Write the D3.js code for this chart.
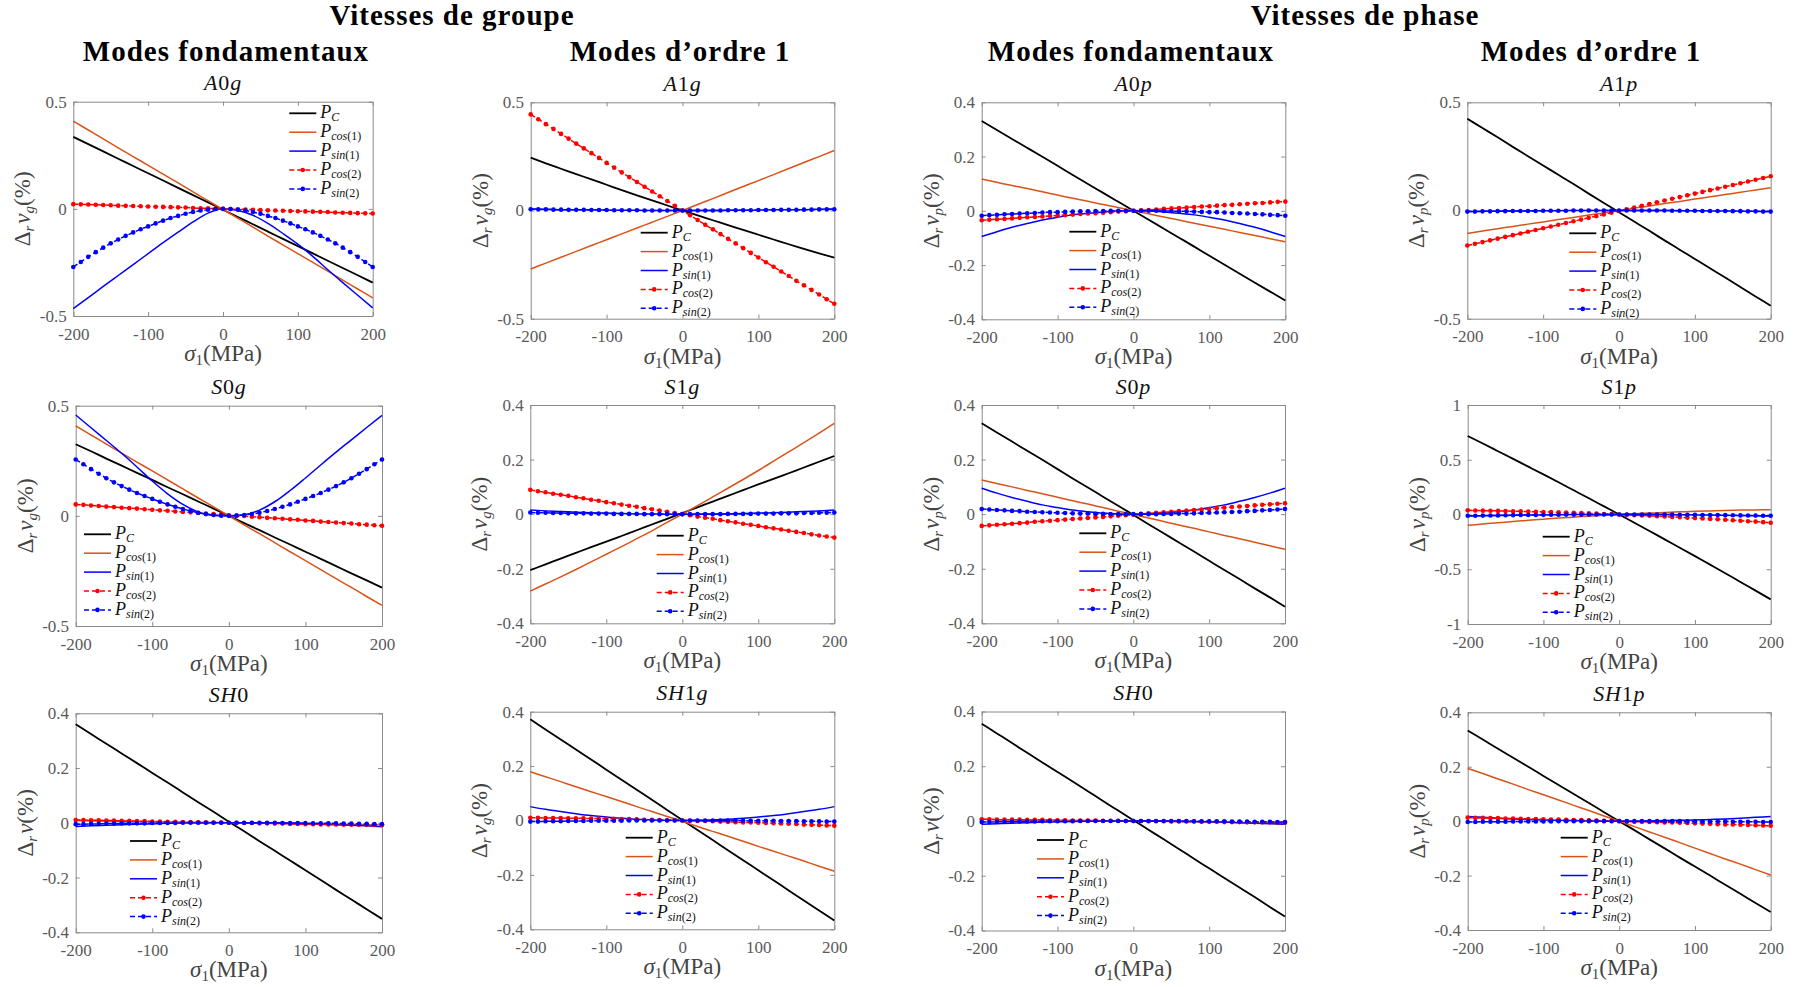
<!DOCTYPE html>
<html><head><meta charset="utf-8">
<script src="https://cdn.jsdelivr.net/npm/d3@7"></script>
<style>body{margin:0;background:#fff}svg{display:block}</style>
</head><body><svg id="c" width="1801" height="987"></svg>
<script>
// ---------- DATA ----------
const sigmaLine = [-200,-180,-160,-140,-120,-100,-80,-60,-40,-20,0,20,40,60,80,100,120,140,160,180,200];
const sigmaMark = [-200,-190,-180,-170,-160,-150,-140,-130,-120,-110,-100,-90,-80,-70,-60,-50,-40,-30,-20,-10,0,10,20,30,40,50,60,70,80,90,100,110,120,130,140,150,160,170,180,190,200];
const xTicks = [-200,-100,0,100,200];
const yTicksHalf = [-0.5,0,0.5];
const yTicksFour = [-0.4,-0.2,0,0.2,0.4];
const yTicksOne = [-1,-0.5,0,0.5,1];
const groupHeaders = ["Vitesses de groupe","Vitesses de phase"];
const columnHeaders = ["Modes fondamentaux","Modes d’ordre 1","Modes fondamentaux","Modes d’ordre 1"];
const panelTitles = ["A0g","A1g","A0p","A1p","S0g","S1g","S0p","S1p","SH0","SH1g","SH0","SH1p"];
const velocitySub = ["g","g","p","p","g","g","p","p","","g","","p"];
const legendLabels = [["C",""],["cos","(1)"],["sin","(1)"],["cos","(2)"],["sin","(2)"]];
const xLabelParts = ["σ","1","(MPa)"];

// A0g
const A0g_PC    = [0.336,0.302,0.268,0.234,0.200,0.166,0.132,0.098,0.064,0.030,-0.004,-0.038,-0.072,-0.106,-0.140,-0.174,-0.208,-0.242,-0.276,-0.310,-0.344];
const A0g_Pcos1 = [0.409,0.368,0.327,0.285,0.244,0.203,0.162,0.121,0.079,0.038,-0.003,-0.044,-0.085,-0.127,-0.168,-0.209,-0.250,-0.291,-0.333,-0.374,-0.415];
const A0g_Psin1 = [-0.465,-0.414,-0.362,-0.311,-0.260,-0.209,-0.158,-0.109,-0.061,-0.020,0.000,-0.008,-0.030,-0.068,-0.115,-0.165,-0.222,-0.284,-0.344,-0.403,-0.462];
const A0g_Pcos2 = [0.022,0.021,0.020,0.019,0.018,0.017,0.015,0.014,0.013,0.012,0.011,0.010,0.009,0.008,0.007,0.006,0.004,0.003,0.002,0.001,0,-0.001,-0.002,-0.003,-0.004,-0.006,-0.007,-0.008,-0.009,-0.010,-0.011,-0.012,-0.013,-0.014,-0.015,-0.017,-0.018,-0.019,-0.020,-0.021,-0.022];
const A0g_Psin2 = [-0.271,-0.248,-0.224,-0.202,-0.181,-0.161,-0.143,-0.126,-0.110,-0.095,-0.082,-0.068,-0.055,-0.043,-0.033,-0.023,-0.015,-0.008,-0.004,-0.001,0,-0.001,-0.004,-0.008,-0.015,-0.023,-0.033,-0.043,-0.055,-0.068,-0.082,-0.095,-0.110,-0.126,-0.143,-0.161,-0.181,-0.202,-0.224,-0.248,-0.271];
// A1g
const A1g_PC    = [0.244,0.218,0.193,0.168,0.144,0.119,0.094,0.070,0.047,0.023,0,-0.023,-0.045,-0.068,-0.090,-0.112,-0.134,-0.156,-0.177,-0.198,-0.218];
const A1g_Pcos1 = [-0.270,-0.243,-0.216,-0.189,-0.162,-0.135,-0.108,-0.081,-0.054,-0.027,0,0.028,0.055,0.083,0.111,0.138,0.166,0.194,0.222,0.249,0.277];
const A1g_Psin1 = [0.007,0.006,0.004,0.003,0.003,0.002,0.001,0.001,0,0,0,0,0,0.001,0.001,0.002,0.003,0.003,0.004,0.006,0.007];
const A1g_Pcos2 = [0.444,0.422,0.399,0.377,0.354,0.332,0.309,0.287,0.265,0.243,0.220,0.198,0.176,0.154,0.132,0.110,0.088,0.066,0.044,0.022,0,-0.022,-0.044,-0.066,-0.087,-0.109,-0.131,-0.152,-0.174,-0.196,-0.217,-0.239,-0.260,-0.282,-0.303,-0.325,-0.346,-0.367,-0.388,-0.410,-0.431];
const A1g_Psin2 = [0.006,0.005,0.005,0.004,0.004,0.003,0.003,0.003,0.002,0.002,0.002,0.001,0.001,0.001,0.001,0,0,0,0,0,0,0,0,0,0,0,0.001,0.001,0.001,0.001,0.002,0.002,0.002,0.003,0.003,0.003,0.004,0.004,0.005,0.005,0.006];
// A0p
const A0p_PC    = [0.331,0.298,0.265,0.232,0.199,0.166,0.132,0.099,0.066,0.033,0,-0.033,-0.066,-0.099,-0.132,-0.166,-0.199,-0.232,-0.265,-0.298,-0.331];
const A0p_Pcos1 = [0.117,0.105,0.093,0.082,0.070,0.058,0.046,0.035,0.023,0.012,0,-0.011,-0.023,-0.034,-0.046,-0.057,-0.068,-0.080,-0.091,-0.103,-0.114];
const A0p_Psin1 = [-0.095,-0.077,-0.061,-0.047,-0.034,-0.024,-0.015,-0.009,-0.004,-0.001,0,-0.001,-0.004,-0.009,-0.015,-0.024,-0.034,-0.047,-0.061,-0.077,-0.095];
const A0p_Pcos2 = [-0.035,-0.033,-0.031,-0.030,-0.028,-0.026,-0.024,-0.023,-0.021,-0.019,-0.017,-0.016,-0.014,-0.012,-0.010,-0.009,-0.007,-0.005,-0.003,-0.002,0,0.002,0.003,0.005,0.007,0.009,0.010,0.012,0.014,0.016,0.017,0.019,0.021,0.022,0.024,0.026,0.028,0.029,0.031,0.033,0.034];
const A0p_Psin2 = [-0.018,-0.016,-0.015,-0.013,-0.012,-0.010,-0.009,-0.008,-0.006,-0.005,-0.005,-0.004,-0.003,-0.002,-0.002,-0.001,-0.001,0,0,0,0,0,0,0,-0.001,-0.001,-0.002,-0.002,-0.003,-0.004,-0.005,-0.005,-0.006,-0.008,-0.009,-0.010,-0.012,-0.013,-0.015,-0.016,-0.018];
// A1p
const A1p_PC    = [0.424,0.381,0.338,0.294,0.251,0.208,0.165,0.122,0.078,0.035,-0.008,-0.051,-0.094,-0.138,-0.181,-0.224,-0.267,-0.310,-0.354,-0.397,-0.440];
const A1p_Pcos1 = [-0.106,-0.095,-0.084,-0.074,-0.063,-0.053,-0.042,-0.032,-0.021,-0.011,0,0.011,0.021,0.032,0.042,0.053,0.063,0.074,0.084,0.095,0.105];
const A1p_Psin1 = [-0.005,-0.004,-0.003,-0.002,-0.002,-0.001,-0.001,0,0,0,0,0,0,0,-0.001,-0.001,-0.002,-0.002,-0.003,-0.004,-0.005];
const A1p_Pcos2 = [-0.162,-0.154,-0.146,-0.138,-0.130,-0.122,-0.114,-0.106,-0.098,-0.090,-0.082,-0.074,-0.066,-0.058,-0.050,-0.042,-0.034,-0.026,-0.018,-0.010,-0.002,0.006,0.014,0.022,0.030,0.038,0.046,0.054,0.062,0.070,0.078,0.086,0.094,0.102,0.110,0.118,0.126,0.134,0.142,0.150,0.158];
const A1p_Psin2 = [-0.005,-0.005,-0.004,-0.004,-0.003,-0.003,-0.002,-0.002,-0.002,-0.002,-0.001,-0.001,-0.001,-0.001,0,0,0,0,0,0,0,0,0,0,0,0,0,-0.001,-0.001,-0.001,-0.001,-0.002,-0.002,-0.002,-0.002,-0.003,-0.003,-0.004,-0.004,-0.005,-0.005];
// S0g
const S0g_PC    = [0.325,0.293,0.260,0.228,0.195,0.163,0.130,0.098,0.065,0.033,0,-0.033,-0.065,-0.098,-0.130,-0.163,-0.195,-0.228,-0.261,-0.293,-0.326];
const S0g_Pcos1 = [0.408,0.367,0.326,0.285,0.244,0.204,0.163,0.122,0.081,0.041,0,-0.041,-0.081,-0.122,-0.163,-0.203,-0.244,-0.285,-0.325,-0.366,-0.406];
const S0g_Psin1 = [0.458,0.400,0.342,0.284,0.222,0.158,0.100,0.052,0.018,0.002,0,0.005,0.026,0.064,0.115,0.172,0.231,0.289,0.345,0.401,0.456];
const S0g_Pcos2 = [0.052,0.050,0.047,0.045,0.042,0.040,0.037,0.035,0.033,0.030,0.028,0.025,0.023,0.020,0.018,0.016,0.013,0.011,0.008,0.006,0.002,0.001,-0.001,-0.004,-0.006,-0.009,-0.011,-0.013,-0.016,-0.018,-0.021,-0.023,-0.026,-0.028,-0.030,-0.033,-0.035,-0.038,-0.040,-0.043,-0.045];
const S0g_Psin2 = [0.256,0.234,0.212,0.191,0.171,0.152,0.135,0.119,0.104,0.090,0.077,0.064,0.052,0.041,0.031,0.022,0.014,0.008,0.004,0.001,0,0.001,0.004,0.008,0.014,0.022,0.031,0.041,0.052,0.064,0.077,0.090,0.104,0.119,0.135,0.152,0.171,0.191,0.212,0.234,0.256];
// S1g
const S1g_PC    = [-0.205,-0.184,-0.163,-0.142,-0.121,-0.101,-0.080,-0.059,-0.038,-0.017,0.004,0.025,0.046,0.067,0.088,0.109,0.129,0.150,0.171,0.192,0.213];
const S1g_Pcos1 = [-0.282,-0.256,-0.230,-0.203,-0.175,-0.147,-0.119,-0.090,-0.061,-0.030,0,0.031,0.063,0.095,0.127,0.160,0.194,0.228,0.262,0.297,0.333];
const S1g_Psin1 = [0.015,0.012,0.010,0.007,0.005,0.004,0.002,0.001,0.001,0,0,0,0.001,0.001,0.002,0.004,0.005,0.007,0.010,0.012,0.015];
const S1g_Pcos2 = [0.089,0.084,0.080,0.075,0.071,0.067,0.062,0.058,0.053,0.049,0.044,0.040,0.035,0.031,0.027,0.022,0.018,0.013,0.009,0.004,0,-0.004,-0.009,-0.013,-0.017,-0.022,-0.026,-0.030,-0.035,-0.039,-0.043,-0.048,-0.052,-0.056,-0.061,-0.065,-0.069,-0.074,-0.078,-0.082,-0.086];
const S1g_Psin2 = [0.006,0.005,0.005,0.004,0.004,0.003,0.003,0.003,0.002,0.002,0.002,0.001,0.001,0.001,0.001,0,0,0,0,0,0,0,0,0,0,0,0.001,0.001,0.001,0.001,0.002,0.002,0.002,0.003,0.003,0.003,0.004,0.004,0.005,0.005,0.006];
// S0p
const S0p_PC    = [0.333,0.299,0.266,0.232,0.199,0.165,0.131,0.098,0.064,0.031,-0.003,-0.037,-0.070,-0.104,-0.137,-0.171,-0.205,-0.238,-0.272,-0.305,-0.339];
const S0p_Pcos1 = [0.125,0.112,0.100,0.087,0.075,0.062,0.049,0.037,0.024,0.011,-0.002,-0.014,-0.027,-0.040,-0.052,-0.065,-0.078,-0.090,-0.103,-0.116,-0.129];
const S0p_Psin1 = [0.095,0.077,0.061,0.047,0.034,0.024,0.015,0.009,0.004,0.001,0,0.001,0.004,0.009,0.015,0.024,0.034,0.047,0.061,0.077,0.095];
const S0p_Pcos2 = [-0.043,-0.041,-0.039,-0.037,-0.035,-0.033,-0.031,-0.028,-0.026,-0.024,-0.022,-0.020,-0.018,-0.016,-0.014,-0.012,-0.010,-0.008,-0.006,-0.004,-0.002,0.001,0.003,0.005,0.007,0.009,0.011,0.013,0.015,0.017,0.019,0.022,0.024,0.026,0.028,0.030,0.032,0.034,0.036,0.038,0.040];
const S0p_Psin2 = [0.019,0.017,0.015,0.014,0.012,0.011,0.009,0.008,0.007,0.006,0.005,0.004,0.003,0.002,0.002,0.001,0.001,0,0,0,0,0,0,0,0.001,0.001,0.002,0.002,0.003,0.004,0.005,0.006,0.007,0.008,0.009,0.011,0.012,0.014,0.015,0.017,0.019];
// S1p
const S1p_PC    = [0.717,0.648,0.578,0.508,0.437,0.366,0.294,0.221,0.148,0.074,0,-0.075,-0.150,-0.227,-0.303,-0.380,-0.458,-0.536,-0.616,-0.695,-0.775];
const S1p_Pcos1 = [-0.099,-0.087,-0.075,-0.064,-0.053,-0.043,-0.033,-0.024,-0.015,-0.007,0,0.007,0.013,0.019,0.024,0.029,0.033,0.037,0.040,0.042,0.044];
const S1p_Psin1 = [-0.014,-0.011,-0.009,-0.007,-0.005,-0.004,-0.002,-0.001,-0.001,0,0,0,-0.001,-0.001,-0.002,-0.004,-0.005,-0.007,-0.009,-0.011,-0.014];
const S1p_Pcos2 = [0.038,0.037,0.035,0.034,0.033,0.032,0.030,0.029,0.027,0.025,0.023,0.022,0.019,0.017,0.015,0.013,0.010,0.008,0.005,0.003,0,-0.003,-0.006,-0.009,-0.012,-0.015,-0.018,-0.022,-0.025,-0.029,-0.033,-0.036,-0.040,-0.044,-0.048,-0.052,-0.057,-0.061,-0.065,-0.070,-0.075];
const S1p_Psin2 = [-0.012,-0.011,-0.010,-0.009,-0.008,-0.007,-0.006,-0.005,-0.004,-0.004,-0.003,-0.002,-0.002,-0.001,-0.001,-0.001,0,0,0,0,0,0,0,0,0,-0.001,-0.001,-0.001,-0.002,-0.002,-0.003,-0.004,-0.004,-0.005,-0.006,-0.007,-0.008,-0.009,-0.010,-0.011,-0.012];
// SH0 (group)
const SH0g_PC    = [0.360,0.324,0.289,0.253,0.218,0.182,0.147,0.111,0.075,0.040,0.004,-0.031,-0.067,-0.102,-0.138,-0.173,-0.209,-0.245,-0.280,-0.316,-0.351];
const SH0g_Pcos1 = [0.008,0.007,0.006,0.006,0.005,0.004,0.003,0.002,0.002,0.001,0,-0.001,-0.002,-0.002,-0.003,-0.004,-0.005,-0.006,-0.006,-0.007,-0.008];
const SH0g_Psin1 = [-0.014,-0.011,-0.009,-0.007,-0.005,-0.004,-0.002,-0.001,-0.001,0,0,0,-0.001,-0.001,-0.002,-0.004,-0.005,-0.007,-0.009,-0.011,-0.014];
const SH0g_Pcos2 = [0.010,0.010,0.009,0.009,0.008,0.008,0.007,0.007,0.006,0.006,0.005,0.005,0.004,0.004,0.003,0.003,0.002,0.002,0.001,0.001,0,0,-0.001,-0.001,-0.002,-0.002,-0.003,-0.003,-0.004,-0.004,-0.005,-0.005,-0.006,-0.006,-0.006,-0.007,-0.007,-0.007,-0.008,-0.008,-0.008];
const SH0g_Psin2 = [-0.005,-0.005,-0.004,-0.004,-0.003,-0.003,-0.002,-0.002,-0.002,-0.002,-0.001,-0.001,-0.001,-0.001,0,0,0,0,0,0,0,0,0,0,0,0,0,-0.001,-0.001,-0.001,-0.001,-0.002,-0.002,-0.002,-0.002,-0.003,-0.003,-0.004,-0.004,-0.005,-0.005];
// SH1g
const SH1g_PC    = [0.372,0.335,0.298,0.261,0.224,0.187,0.150,0.113,0.076,0.039,0.002,-0.035,-0.072,-0.109,-0.146,-0.183,-0.220,-0.257,-0.294,-0.331,-0.368];
const SH1g_Pcos1 = [0.179,0.161,0.143,0.124,0.106,0.088,0.070,0.051,0.033,0.015,-0.003,-0.022,-0.040,-0.058,-0.076,-0.095,-0.113,-0.131,-0.149,-0.168,-0.186];
const SH1g_Psin1 = [0.051,0.041,0.033,0.025,0.018,0.013,0.008,0.005,0.002,0.001,0,0.001,0.002,0.005,0.008,0.013,0.018,0.025,0.033,0.041,0.051];
const SH1g_Pcos2 = [0.010,0.010,0.009,0.009,0.009,0.008,0.008,0.008,0.007,0.007,0.006,0.006,0.005,0.005,0.004,0.003,0.003,0.002,0.001,0.001,0,-0.001,-0.002,-0.002,-0.003,-0.004,-0.005,-0.006,-0.007,-0.007,-0.008,-0.009,-0.010,-0.011,-0.012,-0.013,-0.015,-0.016,-0.017,-0.018,-0.019];
const SH1g_Psin2 = [-0.004,-0.004,-0.003,-0.003,-0.003,-0.002,-0.002,-0.002,-0.001,-0.001,-0.001,-0.001,-0.001,0,0,0,0,0,0,0,0,0,0,0,0,0,0,0,-0.001,-0.001,-0.001,-0.001,-0.001,-0.002,-0.002,-0.002,-0.003,-0.003,-0.003,-0.004,-0.004];
// SH0 (phase)
const SH0p_PC    = [0.355,0.320,0.285,0.249,0.214,0.179,0.144,0.109,0.073,0.038,0.003,-0.032,-0.067,-0.102,-0.138,-0.173,-0.208,-0.243,-0.278,-0.314,-0.349];
const SH0p_Pcos1 = [0.006,0.005,0.005,0.004,0.004,0.003,0.002,0.002,0.001,0.001,0,-0.001,-0.001,-0.002,-0.003,-0.004,-0.005,-0.006,-0.007,-0.008,-0.009];
const SH0p_Psin1 = [-0.012,-0.010,-0.008,-0.006,-0.004,-0.003,-0.002,-0.001,0,0,0,0,0,-0.001,-0.002,-0.003,-0.004,-0.006,-0.008,-0.010,-0.012];
const SH0p_Pcos2 = [0.006,0.006,0.005,0.005,0.005,0.005,0.004,0.004,0.004,0.003,0.003,0.003,0.002,0.002,0.002,0.002,0.001,0.001,0.001,0,0,0,-0.001,-0.001,-0.001,-0.002,-0.002,-0.002,-0.002,-0.003,-0.003,-0.003,-0.004,-0.004,-0.004,-0.005,-0.005,-0.005,-0.005,-0.006,-0.006];
const SH0p_Psin2 = [-0.004,-0.004,-0.003,-0.003,-0.003,-0.002,-0.002,-0.002,-0.001,-0.001,-0.001,-0.001,-0.001,0,0,0,0,0,0,0,0,0,0,0,0,0,0,0,-0.001,-0.001,-0.001,-0.001,-0.001,-0.002,-0.002,-0.002,-0.003,-0.003,-0.003,-0.004,-0.004];
// SH1p
const SH1p_PC    = [0.333,0.300,0.266,0.233,0.200,0.166,0.133,0.100,0.067,0.033,0,-0.033,-0.067,-0.100,-0.134,-0.167,-0.200,-0.234,-0.267,-0.301,-0.334];
const SH1p_Pcos1 = [0.194,0.175,0.155,0.136,0.116,0.097,0.078,0.058,0.039,0.019,0,-0.020,-0.040,-0.059,-0.079,-0.099,-0.119,-0.139,-0.158,-0.178,-0.198];
const SH1p_Psin1 = [0.017,0.014,0.011,0.008,0.006,0.004,0.003,0.002,0.001,0,0,0,0.001,0.002,0.003,0.004,0.006,0.008,0.011,0.014,0.017];
const SH1p_Pcos2 = [0.013,0.012,0.012,0.011,0.011,0.010,0.010,0.009,0.008,0.008,0.007,0.006,0.006,0.005,0.004,0.004,0.003,0.002,0.001,0.001,0,-0.001,-0.002,-0.002,-0.003,-0.004,-0.005,-0.005,-0.006,-0.007,-0.008,-0.009,-0.010,-0.011,-0.012,-0.012,-0.013,-0.014,-0.015,-0.016,-0.017];
const SH1p_Psin2 = [-0.003,-0.003,-0.002,-0.002,-0.002,-0.002,-0.001,-0.001,-0.001,-0.001,-0.001,-0.001,0,0,0,0,0,0,0,0,0,0,0,0,0,0,0,0,0,-0.001,-0.001,-0.001,-0.001,-0.001,-0.001,-0.002,-0.002,-0.002,-0.002,-0.003,-0.003];

const panelSeries = [
  [A0g_PC,A0g_Pcos1,A0g_Psin1,A0g_Pcos2,A0g_Psin2],
  [A1g_PC,A1g_Pcos1,A1g_Psin1,A1g_Pcos2,A1g_Psin2],
  [A0p_PC,A0p_Pcos1,A0p_Psin1,A0p_Pcos2,A0p_Psin2],
  [A1p_PC,A1p_Pcos1,A1p_Psin1,A1p_Pcos2,A1p_Psin2],
  [S0g_PC,S0g_Pcos1,S0g_Psin1,S0g_Pcos2,S0g_Psin2],
  [S1g_PC,S1g_Pcos1,S1g_Psin1,S1g_Pcos2,S1g_Psin2],
  [S0p_PC,S0p_Pcos1,S0p_Psin1,S0p_Pcos2,S0p_Psin2],
  [S1p_PC,S1p_Pcos1,S1p_Psin1,S1p_Pcos2,S1p_Psin2],
  [SH0g_PC,SH0g_Pcos1,SH0g_Psin1,SH0g_Pcos2,SH0g_Psin2],
  [SH1g_PC,SH1g_Pcos1,SH1g_Psin1,SH1g_Pcos2,SH1g_Psin2],
  [SH0p_PC,SH0p_Pcos1,SH0p_Psin1,SH0p_Pcos2,SH0p_Psin2],
  [SH1p_PC,SH1p_Pcos1,SH1p_Psin1,SH1p_Pcos2,SH1p_Psin2]
];
const panelYTicks = [yTicksHalf,yTicksHalf,yTicksFour,yTicksHalf,yTicksHalf,yTicksFour,yTicksFour,yTicksOne,yTicksFour,yTicksFour,yTicksFour,yTicksFour];

// ---------- LAYOUT & STYLE ----------
const SERIF = "'Liberation Serif','Times New Roman',serif";
const seriesColors = ["#000000","#D95319","#0000FF","#FF0000","#0000FF"];
const seriesWidths = [1.8,1.5,1.5,1.5,1.5];
const AXIS_COLOR = "#8a8a8a";
const TICK_TEXT = "#5a5a5a";
const LABEL_TEXT = "#444";
const boxes = [
  [73.3,372.7,101.7,316],[530.7,834.3,102.3,318.7],[981.7,1285.3,102.3,319.3],[1467.3,1770.7,102.3,318.7],
  [75.7,382,405.7,626],[530.3,834.3,405,623.3],[981.7,1285,405,623.3],[1467.7,1770.7,405,624],
  [75.7,382,713.3,932.3],[530.3,834.3,711.7,929.3],[981.7,1285,711.5,930.5],[1467.7,1770.7,712.3,930]
];
const legendPos = [
  [289.3,113.3],[640.7,232.7],[1069.3,231.7],[1569.3,233.3],
  [84,534.3],[656.7,535.7],[1079.3,533.3],[1542.7,536.7],
  [130,841],[625.7,837.7],[1037,840],[1560.7,837.7]
];
const groupHeaderPos = [[452,25],[1365,25]];
const colHeaderPos = [[226,61],[680,61],[1131,61],[1591,61]];

const svg = d3.select("#c");
svg.append("rect").attr("width",1801).attr("height",987).attr("fill","#fff");

groupHeaders.forEach((t,i)=>{
  svg.append("text").attr("x",groupHeaderPos[i][0]).attr("y",groupHeaderPos[i][1])
    .attr("text-anchor","middle").attr("font-family",SERIF).attr("font-weight","bold")
    .attr("font-size",29).attr("letter-spacing",1).attr("fill","#000").text(t);
});
columnHeaders.forEach((t,i)=>{
  svg.append("text").attr("x",colHeaderPos[i][0]).attr("y",colHeaderPos[i][1])
    .attr("text-anchor","middle").attr("font-family",SERIF).attr("font-weight","bold")
    .attr("font-size",29).attr("letter-spacing",1).attr("fill","#000").text(t);
});

function styleAxis(sel){
  sel.attr("font-family",SERIF);
  sel.select(".domain").attr("stroke",AXIS_COLOR).attr("stroke-width",1);
  sel.selectAll(".tick line").attr("stroke",AXIS_COLOR).attr("stroke-width",1);
  sel.selectAll(".tick text").attr("font-family",SERIF).attr("font-size",17).attr("fill",TICK_TEXT);
}

panelTitles.forEach((title,i)=>{
  const [x0,x1,y0,y1] = boxes[i];
  const yt = panelYTicks[i];
  const x = d3.scaleLinear().domain([-200,200]).range([x0,x1]);
  const y = d3.scaleLinear().domain([yt[0],yt[yt.length-1]]).range([y1,y0]);
  const g = svg.append("g");

  g.append("g").attr("transform",`translate(0,${y1})`)
    .call(d3.axisBottom(x).tickValues(xTicks).tickSizeInner(-4).tickSizeOuter(0).tickPadding(11.5).tickFormat(d=>String(d)))
    .call(styleAxis);
  g.append("g").attr("transform",`translate(0,${y0})`)
    .call(d3.axisTop(x).tickValues(xTicks).tickSizeInner(-4).tickSizeOuter(0).tickFormat(""))
    .call(styleAxis);
  g.append("g").attr("transform",`translate(${x0},0)`)
    .call(d3.axisLeft(y).tickValues(yt).tickSizeInner(-4).tickSizeOuter(0).tickPadding(6.6).tickFormat(d=>String(d)))
    .call(styleAxis);
  g.append("g").attr("transform",`translate(${x1},0)`)
    .call(d3.axisRight(y).tickValues(yt).tickSizeInner(-4).tickSizeOuter(0).tickFormat(""))
    .call(styleAxis);

  const series = panelSeries[i];
  series.forEach((vals,k)=>{
    const dotted = k>=3;
    const xs = dotted ? sigmaMark : sigmaLine;
    const pts = vals.map((v,j)=>[xs[j],v]);
    const line = d3.line().x(d=>x(d[0])).y(d=>y(d[1])).curve(dotted?d3.curveLinear:d3.curveMonotoneX);
    g.append("path").attr("d",line(pts)).attr("fill","none")
      .attr("stroke",seriesColors[k]).attr("stroke-width",seriesWidths[k])
      .attr("stroke-dasharray",dotted?"5,3":null);
    if(dotted){
      g.selectAll(null).data(pts).enter().append("circle")
        .attr("cx",d=>x(d[0])).attr("cy",d=>y(d[1])).attr("r",2.3).attr("fill",seriesColors[k]);
    }
  });

  const tt = g.append("text").attr("x",(x0+x1)/2).attr("y",y0-11.5).attr("text-anchor","middle")
    .attr("font-family",SERIF).attr("font-size",22).attr("letter-spacing",0.8).attr("fill","#111");
  title.split("").forEach(ch=>{
    tt.append("tspan").attr("font-style",/[0-9]/.test(ch)?"normal":"italic").text(ch);
  });

  const xl = g.append("text").attr("x",(x0+x1)/2).attr("y",y1+45).attr("text-anchor","middle")
    .attr("font-family",SERIF).attr("font-size",23).attr("fill",LABEL_TEXT);
  xl.append("tspan").attr("font-style","italic").text(xLabelParts[0]);
  xl.append("tspan").attr("font-size",15).attr("dy",4).text(xLabelParts[1]);
  xl.append("tspan").attr("dy",-4).text(xLabelParts[2]);

  const cx = x0-43, cy = (y0+y1)/2;
  const yl = g.append("text").attr("x",cx).attr("y",cy).attr("text-anchor","middle")
    .attr("transform",`rotate(-90,${cx},${cy})`)
    .attr("font-family",SERIF).attr("font-size",23).attr("fill",LABEL_TEXT);
  yl.append("tspan").text("Δ");
  yl.append("tspan").attr("font-style","italic").attr("font-size",15).attr("dy",4).text("r");
  yl.append("tspan").attr("font-style","italic").attr("dy",-4).attr("dx",2).text("v");
  if(velocitySub[i]){
    yl.append("tspan").attr("font-style","italic").attr("font-size",15).attr("dy",4).text(velocitySub[i]);
    yl.append("tspan").attr("dy",-4).text("(%)");
  } else {
    yl.append("tspan").text("(%)");
  }

  const [lx,ly] = legendPos[i];
  legendLabels.forEach((lab,k)=>{
    const yy = ly + k*18.9;
    const dotted = k>=3;
    g.append("line").attr("x1",lx).attr("x2",lx+27).attr("y1",yy).attr("y2",yy)
      .attr("stroke",seriesColors[k]).attr("stroke-width",seriesWidths[k])
      .attr("stroke-dasharray",dotted?"5,3":null);
    if(dotted) g.append("circle").attr("cx",lx+13.5).attr("cy",yy).attr("r",2.3).attr("fill",seriesColors[k]);
    const t = g.append("text").attr("x",lx+31).attr("y",yy+5).attr("font-family",SERIF).attr("fill","#111");
    t.append("tspan").attr("font-style","italic").attr("font-size",18).text("P");
    t.append("tspan").attr("font-style","italic").attr("font-size",12).attr("dy",3).text(lab[0]);
    if(lab[1]) t.append("tspan").attr("font-size",12).text(lab[1]);
  });
});
</script>
</body></html>
